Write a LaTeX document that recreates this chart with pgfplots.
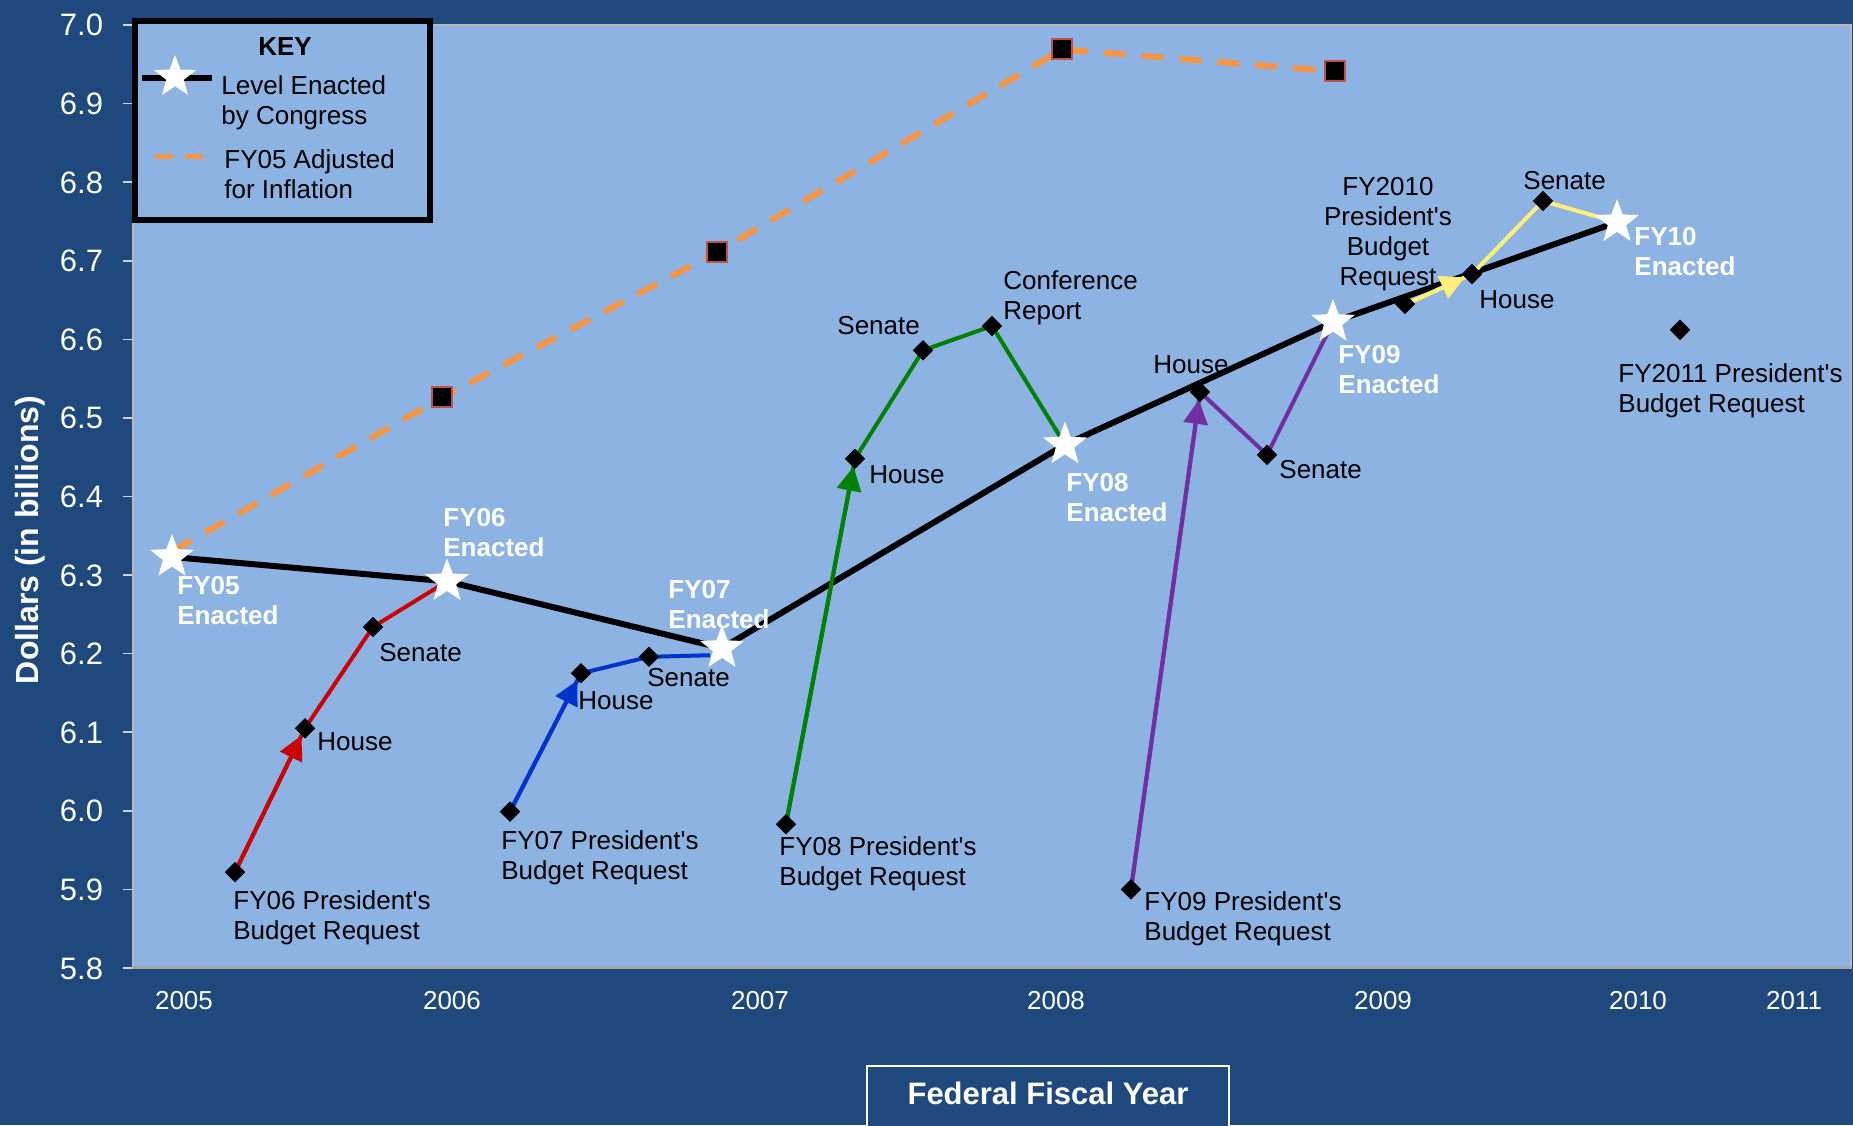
\documentclass[border=0pt]{standalone}
\usepackage{fontspec}
\setmainfont{Liberation Sans}[Ligatures=TeXOff]
\usepackage{pgfplots}
\pgfplotsset{compat=1.18}
\usetikzlibrary{arrows.meta}
\definecolor{bgblue}{HTML}{1F497D}
\definecolor{plotblue}{HTML}{8DB3E2}
\definecolor{orangeL}{HTML}{F79646}
\definecolor{sqborder}{HTML}{C0504D}
\definecolor{redL}{HTML}{CC0000}
\definecolor{blueL}{HTML}{0033CC}
\definecolor{greenL}{HTML}{008000}
\definecolor{purpleL}{HTML}{7030A0}
\definecolor{yellowL}{HTML}{FFF07A}
\pgfdeclareplotmark{fstar}{%
 \pgfpathmoveto{\pgfpointpolar{90}{\pgfplotmarksize}}%
 \pgfpathlineto{\pgfpointpolar{126}{0.42\pgfplotmarksize}}%
 \pgfpathlineto{\pgfpointpolar{162}{\pgfplotmarksize}}%
 \pgfpathlineto{\pgfpointpolar{198}{0.42\pgfplotmarksize}}%
 \pgfpathlineto{\pgfpointpolar{234}{\pgfplotmarksize}}%
 \pgfpathlineto{\pgfpointpolar{270}{0.42\pgfplotmarksize}}%
 \pgfpathlineto{\pgfpointpolar{306}{\pgfplotmarksize}}%
 \pgfpathlineto{\pgfpointpolar{342}{0.42\pgfplotmarksize}}%
 \pgfpathlineto{\pgfpointpolar{18}{\pgfplotmarksize}}%
 \pgfpathlineto{\pgfpointpolar{54}{0.42\pgfplotmarksize}}%
 \pgfpathclose
 \pgfusepathqfill
}
\tikzset{
 lab/.style={font=\fontsize{13pt}{15pt}\selectfont, inner sep=0pt, anchor=north west, align=left, text=black},
 wlab/.style={lab, font=\fontsize{13pt}{15pt}\selectfont\bfseries, text=white},
 arr/.style={-{Triangle[length=12pt,width=12pt]}, shorten >=4pt},
}
\begin{document}
\begin{tikzpicture}
\useasboundingbox (0,0) rectangle (926.5pt,562.5pt);
\fill[bgblue] (0,0) rectangle (926.5pt,562.5pt);
\begin{axis}[
  at={(66.5pt,78.5pt)}, anchor=south west,
  scale only axis, width=859pt, height=471.5pt,
  xmin=133, xmax=1851, ymin=5.8, ymax=7.0,
  axis background/.style={fill=plotblue},
  axis line style={draw=gray!55, line width=0.8pt},
  tick pos=left, tick align=outside, major tick length=5pt,
  xtick={184,452,760,1056,1383,1638,1794},
  xticklabels={2005,2006,2007,2008,2009,2010,2011},
  xtick style={draw=none},
  ytick={5.8,5.9,6.0,6.1,6.2,6.3,6.4,6.5,6.6,6.7,6.8,6.9,7.0},
  yticklabels={5.8,5.9,6.0,6.1,6.2,6.3,6.4,6.5,6.6,6.7,6.8,6.9,7.0},
  ytick style={draw=gray!35, line width=0.8pt},
  xticklabel style={font=\fontsize{13pt}{15pt}\selectfont, text=white, inner sep=0pt, anchor=base, yshift=-15.5pt},
  yticklabel style={font=\fontsize{15.5pt}{18pt}\selectfont, text=white, inner sep=0pt, anchor=base east, xshift=-9.8pt, yshift=-5.5pt},
  clip=false,
]
% Level enacted by Congress
\addplot[black, line width=3pt, line join=round] coordinates {(172,6.323) (447,6.292) (722,6.207) (1065,6.466) (1333,6.622) (1617,6.749)};
% FY05 adjusted for inflation
\addplot[only marks, mark=square*, mark size=5pt, mark options={fill=black, draw=sqborder, line width=1pt}] coordinates {(442,6.526) (717,6.711) (1062,6.969) (1335,6.941)};
\addplot[orangeL, line width=3pt, dash pattern=on 11pt off 8pt] coordinates {(172,6.33) (442,6.526) (717,6.711) (1062,6.969) (1335,6.941)};
% diamonds
\addplot[only marks, mark=square*, mark size=3.4pt, mark options={fill=black, draw=black, rotate=45}] coordinates {
 (235,5.922) (305,6.105) (373,6.234)
 (510,5.999) (581,6.175) (649,6.196)
 (786,5.983) (855,6.448) (923,6.586) (992,6.617)
 (1131,5.900) (1200,6.533) (1267,6.453)
 (1405,6.645) (1472,6.683) (1543,6.776)
 (1680,6.612)};
% FY06
\addplot[redL, line width=2pt, line join=round] coordinates {(235,5.922) (305,6.105) (373,6.234) (447,6.292)};
\addplot[redL, line width=2pt, arr] coordinates {(235,5.922) (305,6.105)};
% FY07
\addplot[blueL, line width=2pt, line join=round] coordinates {(510,5.999) (581,6.175) (649,6.196) (710,6.198)};
\addplot[blueL, line width=2pt, arr] coordinates {(510,5.999) (581,6.175)};
% FY08
\addplot[greenL, line width=2pt, line join=round] coordinates {(786,5.983) (855,6.448) (923,6.586) (992,6.617) (1065,6.466)};
\addplot[greenL, line width=2pt, arr] coordinates {(786,5.983) (855,6.448)};
% FY09
\addplot[purpleL, line width=2pt, line join=round] coordinates {(1131,5.900) (1200,6.533) (1267,6.453) (1333,6.622)};
\addplot[purpleL, line width=2pt, arr] coordinates {(1131,5.900) (1200,6.533)};
% FY10
\addplot[yellowL, line width=2pt, line join=round] coordinates {(1410,6.647) (1472,6.683) (1543,6.776) (1617,6.749)};
\addplot[yellowL, line width=2pt, arr] coordinates {(1410,6.647) (1472,6.683)};
% enacted stars
\addplot[white, only marks, mark=fstar, mark size=11.5pt] coordinates {(172,6.323) (447,6.292) (722,6.207) (1065,6.466) (1333,6.622) (1617,6.749)};
\end{axis}
\begin{scope}[x=0.5pt, y=-0.5pt, yshift=562.5pt]
\draw[gray!70, line width=1.5pt] (133,968) -- (1851,968);
% key
\draw[black, line width=3pt, fill=plotblue] (135,21) rectangle (430,220);
\node[font=\fontsize{13pt}{15pt}\selectfont\bfseries, inner sep=0pt, anchor=north] at (285,37) {KEY};
\draw[black, line width=3pt] (142,78) -- (212,78);
\fill[white] (175,77) +(-90:22) -- +(-126:9.2) -- +(-162:22) -- +(-198:9.2) -- +(-234:22) -- +(-270:9.2) -- +(-306:22) -- +(-342:9.2) -- +(-18:22) -- +(-54:9.2) -- cycle;
\node[lab] at (221,75) {Level Enacted\\by Congress};
\draw[orangeL, line width=2.5pt, dash pattern=on 9pt off 6pt] (155,157) -- (204,157);
\node[lab] at (224,149) {FY05 Adjusted\\for Inflation};
% axis titles
\node[font=\fontsize{16pt}{18pt}\selectfont\bfseries, text=white, rotate=90, anchor=base, inner sep=0pt] at (38,540) {Dollars (in billions)};
\draw[white, line width=1pt, fill=bgblue] (867,1066) rectangle (1229,1140);
\node[font=\fontsize{15.5pt}{18pt}\selectfont\bfseries, text=white, anchor=base, inner sep=0pt] at (1048,1104) {Federal Fiscal Year};
% annotations
\node[wlab] at (177,576) {FY05\\Enacted};
\node[wlab] at (443,508) {FY06\\Enacted};
\node[wlab] at (668,580) {FY07\\Enacted};
\node[wlab] at (1066,473) {FY08\\Enacted};
\node[wlab] at (1338,345) {FY09\\Enacted};
\node[wlab] at (1634,227) {FY10\\Enacted};
\node[lab] at (317,732) {House};
\node[lab] at (379,643) {Senate};
\node[lab] at (233,890) {FY06 President's\\Budget Request};
\node[lab] at (578,691) {House};
\node[lab] at (647,668) {Senate};
\node[lab] at (501,830) {FY07 President's\\Budget Request};
\node[lab] at (869,465) {House};
\node[lab] at (837,316) {Senate};
\node[lab] at (1003,270) {Conference\\Report};
\node[lab] at (779,836) {FY08 President's\\Budget Request};
\node[lab] at (1153,355) {House};
\node[lab] at (1279,460) {Senate};
\node[lab] at (1144,891) {FY09 President's\\Budget Request};
\node[lab] at (1479,290) {House};
\node[lab] at (1523,171) {Senate};
\node[lab, anchor=north, align=center] at (1388,177) {FY2010\\President's\\Budget\\Request};
\node[lab] at (1618,363) {FY2011 President's\\Budget Request};
\end{scope}
\end{tikzpicture}
\end{document}
